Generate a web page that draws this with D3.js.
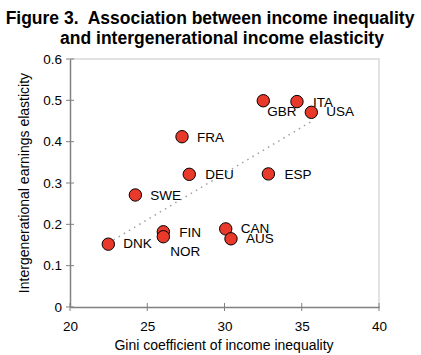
<!DOCTYPE html>
<html><head><meta charset="utf-8">
<script src="https://cdn.jsdelivr.net/npm/d3@7"></script>
<style>body{margin:0;background:#fff}svg{display:block}text{font-family:"Liberation Sans",Arial,sans-serif}</style>
</head><body>
<script>
const countries = ["DNK","FIN","NOR","CAN","AUS","SWE","DEU","FRA","GBR","ITA","USA","ESP"];
const gini = [22.48,26.04,26.04,30.08,30.42,24.23,27.72,27.25,32.51,34.69,35.62,32.84];
const elasticity = [0.152,0.182,0.170,0.189,0.165,0.271,0.321,0.412,0.499,0.497,0.471,0.322];
const labelOffsetX = [15,16,7,15,15,15,16,15,4,16,15,16];
const labelOffsetY = [4,5,19,4,4,5,5,5,15,5,4,5];
const xTicks = [20,25,30,35,40];
const yTicks = [0,0.1,0.2,0.3,0.4,0.5,0.6];
const titleLines = ["Figure 3.  Association between income inequality","and intergenerational income elasticity"];

const W=421,H=355;
const svg=d3.select("body").append("svg").attr("width",W).attr("height",H);
const x=d3.scaleLinear().domain([20,40]).range([70,379]);
const y=d3.scaleLinear().domain([0,0.6]).range([307,59]);

svg.selectAll("text.title").data(titleLines).join("text")
  .attr("x",(d,i)=>i===0?210:222).attr("y",(d,i)=>24+i*19.5).attr("text-anchor","middle")
  .style("white-space","pre")
  .attr("font-size",17.5).attr("font-weight","bold").attr("fill","#000").text(d=>d);

svg.append("path").attr("d",`M${x(20)},${y(0.6)}H${x(40)}V${y(0)}`).attr("fill","none").attr("stroke","#d9d9d9").attr("stroke-width",1.5);

const xa=svg.append("g").attr("transform",`translate(0,${y(0)})`)
  .call(d3.axisBottom(x).tickValues(xTicks).tickSize(0).tickPadding(14).tickFormat(d3.format("d")));
xa.selectAll("line.t").data(xTicks).join("line").attr("class","t").attr("x1",d=>x(d)).attr("x2",d=>x(d)).attr("y1",-4).attr("y2",4).attr("stroke","#808080");
const ya=svg.append("g").attr("transform",`translate(${x(20)},0)`)
  .call(d3.axisLeft(y).tickValues(yTicks).tickSize(0).tickPadding(8).tickFormat(d=>d===0?"0":d3.format(".1f")(d)));
ya.selectAll("line.t").data(yTicks).join("line").attr("class","t").attr("y1",d=>y(d)).attr("y2",d=>y(d)).attr("x1",-4).attr("x2",4).attr("stroke","#808080");
[xa,ya].forEach(a=>{a.select(".domain").attr("stroke","#808080").attr("stroke-width",1.5);
  a.selectAll(".tick text").attr("font-size",13.5).attr("fill","#000").attr("font-family","'Liberation Sans',Arial,sans-serif");});

svg.append("text").attr("x",224).attr("y",350).attr("text-anchor","middle").attr("font-size",14).text("Gini coefficient of income inequality");
svg.append("text").attr("transform",`translate(29,${(y(0)+y(0.6))/2}) rotate(-90)`).attr("text-anchor","middle").attr("font-size",14).text("Intergenerational earnings elasticity");

// regression trend line
const mx=d3.mean(gini), my=d3.mean(elasticity);
const b=d3.sum(gini.map((g,i)=>(g-mx)*(elasticity[i]-my)))/d3.sum(gini.map(g=>(g-mx)**2));
const a0=my-b*mx, x0=d3.min(gini), x1=d3.max(gini);
svg.append("line").attr("x1",x(x0)).attr("y1",y(a0+b*x0)).attr("x2",x(x1)).attr("y2",y(a0+b*x1))
  .attr("stroke","#a0a0a0").attr("stroke-width",1.5).attr("stroke-dasharray","1.5,4.5");

const data=countries.map((c,i)=>({c,g:gini[i],e:elasticity[i],dx:labelOffsetX[i],dy:labelOffsetY[i]}));
svg.selectAll("circle.pt").data(data).join("circle").attr("class","pt")
  .attr("cx",d=>x(d.g)).attr("cy",d=>y(d.e)).attr("r",6.2)
  .attr("fill","#e8392a").attr("stroke","#000").attr("stroke-width",1);
svg.selectAll("text.lab").data(data).join("text").attr("class","lab")
  .attr("x",d=>x(d.g)+d.dx).attr("y",d=>y(d.e)+d.dy).attr("font-size",13.5).attr("fill","#000").text(d=>d.c);
</script>
</body></html>
